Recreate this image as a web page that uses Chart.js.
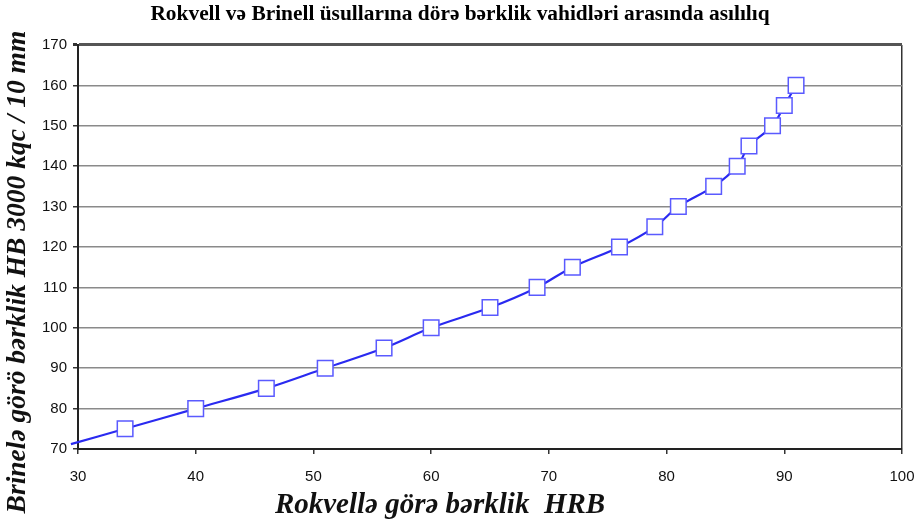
<!DOCTYPE html>
<html>
<head>
<meta charset="utf-8">
<script src="https://cdn.jsdelivr.net/npm/chart.js@4.4.1/dist/chart.umd.min.js"></script>
<style>
  html, body { margin: 0; padding: 0; background: #fff; }
  #wrap { width: 919px; height: 524px; position: relative; }
</style>
</head>
<body>
<div id="wrap"><canvas id="chart"></canvas></div>
<script>
// === DATA ===
var chartTitle = 'Rokvell və Brinell üsullarına dörə bərklik vahidləri arasında asılılıq';
var xTitle = 'Rokvellə görə bərklik  HRB';
var yTitle = 'Brinelə görö bərklik HB 3000 kqc / 10 mm';

// Rockwell HRB (x) vs Brinell HB (y); first pair runs off the left edge, no marker
var hrb = [29.4, 34, 40, 46, 51, 56, 60, 65, 69, 72, 76, 79, 81, 84, 86, 87, 89, 90, 91];
var hb  = [71.2, 75, 80, 85, 90, 95, 100, 105, 110, 115, 120, 125, 130, 135, 140, 145, 150, 155, 160];

var xTicks = [30, 40, 50, 60, 70, 80, 90, 100];
var yTicks = [70, 80, 90, 100, 110, 120, 130, 140, 150, 160, 170];

var points = hrb.map(function(x, i) { return { x: x, y: hb[i] }; });
var markerRadius = points.map(function(p, i) { return i === 0 ? 0 : 11; });

// Axis titles drawn by hand so they can sit off-centre like the original
var axisTitles = {
  id: 'axisTitles',
  afterDraw: function(chart) {
    var c = chart.ctx;
    c.save();
    c.fillStyle = '#111';
    c.textAlign = 'center';
    c.textBaseline = 'middle';
    c.font = 'italic bold 29px "Liberation Serif", "Times New Roman", serif';
    c.fillText(xTitle, 440, 506);
    c.translate(18, 272);
    c.rotate(-Math.PI / 2);
    c.font = 'italic bold 27.5px "Liberation Serif", "Times New Roman", serif';
    c.fillText(yTitle, 0, 0);
    c.restore();
  }
};

var ctx = document.getElementById('chart').getContext('2d');
new Chart(ctx, {
  type: 'line',
  data: {
    datasets: [{
      data: points,
      borderColor: '#2a2af0',
      borderWidth: 2.2,
      tension: 0.35,
      pointStyle: 'rect',
      pointRadius: markerRadius,
      pointHoverRadius: markerRadius,
      pointBackgroundColor: '#ffffff',
      pointBorderColor: '#5a5aff',
      pointBorderWidth: 1.5,
      clip: false
    }]
  },
  options: {
    responsive: true, maintainAspectRatio: false, animation: false,
    layout: { padding: { left: 18, right: 17, top: 0, bottom: 0 } },
    plugins: {
      legend: { display: false },
      tooltip: { enabled: false },
      title: {
        display: true, text: chartTitle, color: '#000',
        font: { family: '"Liberation Serif", "Times New Roman", serif', size: 21.4, weight: 'bold' },
        padding: { top: 2, bottom: 17.3 }
      }
    },
    scales: {
      x: {
        type: 'linear', min: 30, max: 100,
        afterBuildTicks: function(s) { s.ticks = xTicks.map(function(v) { return { value: v }; }); },
        afterFit: function(s) { s.height = 75; s.paddingLeft = 0; s.paddingRight = 0; },
        grid: {
          color: function(c) { return c.tick && c.tick.value === 100 ? '#333' : 'rgba(0,0,0,0)'; },
          lineWidth: 1.5, drawTicks: true, tickLength: 5, tickColor: '#333'
        },
        border: { color: '#222', width: 2 },
        ticks: { color: '#111', padding: 14, font: { family: '"Liberation Sans", Arial, sans-serif', size: 15 } }
      },
      y: {
        min: 70, max: 170,
        afterBuildTicks: function(s) { s.ticks = yTicks.map(function(v) { return { value: v }; }); },
        afterFit: function(s) { s.width = 60; s.paddingTop = 0; s.paddingBottom = 0; },
        grid: {
          color: function(c) { return c.tick && c.tick.value === 170 ? '#555' : '#8a8a8a'; },
          lineWidth: function(c) { return c.tick && c.tick.value === 170 ? 3 : 1.5; },
          drawTicks: true, tickLength: 5, tickColor: '#333'
        },
        border: { color: '#222', width: 2 },
        ticks: { color: '#111', padding: 6, font: { family: '"Liberation Sans", Arial, sans-serif', size: 15 } }
      }
    }
  },
  plugins: [axisTitles]
});
</script>
</body>
</html>
